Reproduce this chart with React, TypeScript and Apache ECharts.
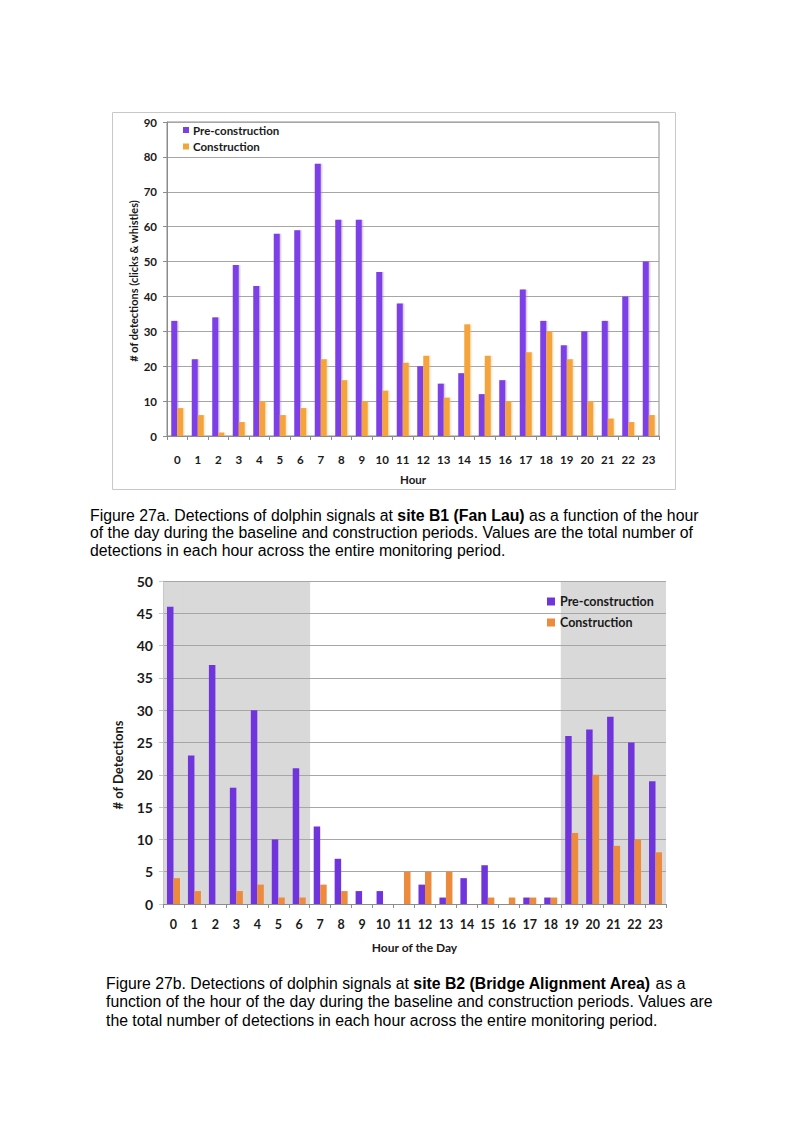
import React, { useEffect, useRef } from "react";
import * as echarts from "echarts";

const hours = ["0","1","2","3","4","5","6","7","8","9","10","11","12","13","14","15","16","17","18","19","20","21","22","23"];

// Figure 27a - site B1 (Fan Lau)
const b1Pre = [33, 22, 34, 49, 43, 58, 59, 78, 62, 62, 47, 38, 20, 15, 18, 12, 16, 42, 33, 26, 30, 33, 40, 50];
const b1Con = [8, 6, 1, 4, 10, 6, 8, 22, 16, 10, 13, 21, 23, 11, 32, 23, 10, 24, 30, 22, 10, 5, 4, 6];

// Figure 27b - site B2 (Bridge Alignment Area)
const b2Pre = [46, 23, 37, 18, 30, 10, 21, 12, 7, 2, 2, 0, 3, 1, 4, 6, 0, 1, 1, 26, 27, 29, 25, 19];
const b2Con = [4, 2, 0, 2, 3, 1, 1, 3, 2, 0, 0, 5, 5, 5, 0, 1, 1, 1, 1, 11, 20, 9, 10, 8];

// night hours shaded in figure 27b
const shadedHours = ["0","1","2","3","4","5","6","19","20","21","22","23"];

const seriesNames = ["Pre-construction", "Construction"];

const F = "Lato, 'Open Sans', sans-serif";
const CAP = "'Liberation Sans', Arial, sans-serif";

export default function App() {
  const ref = useRef<HTMLDivElement>(null);
  useEffect(() => {
    if (!ref.current) return;
    const chart = echarts.init(ref.current, undefined, { renderer: "svg" });
    const c1 = { p: "#7b3fe6", o: "#f5a43c" };
    const c2 = { p: "#7034dc", o: "#ec8a3e" };
    const axisGray = "#8c8c8c";
    const gridGray = "#a6a6a6";
    const shadeGray = "#d9d9d9";
    const lbl = (size: number) => ({ fontFamily: F, fontWeight: "bold" as const, fontSize: size, color: "#1a1a1a" });
    const shadeMax = 50;
    const shadeData = hours.map((h) => (shadedHours.includes(h) ? shadeMax : null));

    chart.setOption({
      animation: false,
      grid: [
        { left: 167, top: 122, width: 492, height: 314, show: true, borderColor: axisGray, borderWidth: 1, backgroundColor: "transparent" },
        { left: 163, top: 581, width: 503, height: 323 },
      ],
      legend: [
        {
          left: 178, top: 119, orient: "vertical", icon: "rect", itemWidth: 6, itemHeight: 6, itemGap: 4.5,
          textStyle: { ...lbl(11.5), padding: [0, 0, 0, -1] },
          data: [
            { name: seriesNames[0], itemStyle: { color: c1.p } },
            { name: seriesNames[1], itemStyle: { color: c1.o } },
          ],
          selectedMode: false,
        },
        {
          left: 542, top: 590, orient: "vertical", icon: "rect", itemWidth: 8, itemHeight: 8, itemGap: 8,
          textStyle: lbl(12.5),
          data: [
            { name: seriesNames[0], itemStyle: { color: c2.p } },
            { name: seriesNames[1], itemStyle: { color: c2.o } },
          ],
          selectedMode: false,
        },
      ],
      xAxis: [
        {
          gridIndex: 0, type: "category", data: hours,
          axisLine: { lineStyle: { color: axisGray } },
          axisTick: { show: true, length: 4, lineStyle: { color: axisGray } },
          axisLabel: { ...lbl(11.5), margin: 17, interval: 0 },
          name: "Hour", nameLocation: "middle", nameGap: 37, nameTextStyle: lbl(11.5),
        },
        {
          gridIndex: 1, type: "category", data: hours,
          axisLine: { lineStyle: { color: axisGray } },
          axisTick: { show: true, length: 4, lineStyle: { color: axisGray } },
          axisLabel: { ...lbl(12.5), margin: 14, interval: 0 },
          name: "Hour of the Day", nameLocation: "middle", nameGap: 37, nameTextStyle: lbl(12),
        },
        { gridIndex: 1, type: "category", data: hours, show: false },
      ],
      yAxis: [
        {
          gridIndex: 0, type: "value", min: 0, max: 90, interval: 10,
          axisLine: { show: true, lineStyle: { color: axisGray } },
          axisTick: { show: true, length: 4, lineStyle: { color: axisGray } },
          splitLine: { lineStyle: { color: gridGray } },
          axisLabel: { ...lbl(11.5), margin: 10 },
        },
        {
          gridIndex: 1, type: "value", min: 0, max: 50, interval: 5,
          axisLine: { show: true, lineStyle: { color: "#c8c8c8" } },
          axisTick: { show: true, length: 4, lineStyle: { color: "#c8c8c8" } },
          splitLine: { lineStyle: { color: gridGray } },
          axisLabel: { ...lbl(14), margin: 10 },
        },
      ],
      series: [
        {
          type: "bar", xAxisIndex: 2, yAxisIndex: 1, data: shadeData, barWidth: "104%",
          itemStyle: { color: shadeGray }, z: -1, silent: true, legendHoverLink: false,
        },
        {
          type: "bar", name: seriesNames[0], xAxisIndex: 0, yAxisIndex: 0, data: b1Pre, barWidth: 6, barGap: "0%",
          itemStyle: { color: c1.p, shadowColor: "rgba(150,110,230,0.35)", shadowOffsetX: 1.5, shadowBlur: 0 },
        },
        {
          type: "bar", name: seriesNames[1], xAxisIndex: 0, yAxisIndex: 0, data: b1Con, barWidth: 6, barGap: "0%",
          itemStyle: { color: c1.o, shadowColor: "rgba(240,190,120,0.35)", shadowOffsetX: 1.5, shadowBlur: 0 },
        },
        {
          type: "bar", name: seriesNames[0], xAxisIndex: 1, yAxisIndex: 1, data: b2Pre, barWidth: 6.5, barGap: "0%",
          itemStyle: { color: c2.p },
        },
        {
          type: "bar", name: seriesNames[1], xAxisIndex: 1, yAxisIndex: 1, data: b2Con, barWidth: 6.5, barGap: "0%",
          itemStyle: { color: c2.o },
        },
      ],
      graphic: [
        {
          type: "rect", left: 110, top: 110, shape: { x: 0, y: 0, width: 563, height: 377 },
          style: { fill: "none", stroke: "#c8c8c8", lineWidth: 1 }, silent: true,
        },
        {
          type: "text", x: 133, y: 281, rotation: Math.PI / 2,
          style: { text: "# of detections (clicks & whistles)", fontFamily: F, fontWeight: "bold", fontSize: 11, fill: "#1a1a1a", align: "center", verticalAlign: "middle" },
        },
        {
          type: "text", x: 118, y: 765, rotation: Math.PI / 2,
          style: { text: "# of Detections", fontFamily: F, fontWeight: "bold", fontSize: 13, fill: "#1a1a1a", align: "center", verticalAlign: "middle" },
        },
        {
          type: "text", left: 90, top: 507,
          style: {
            text:
              "{n|Figure 27a. Detections of dolphin signals at }{b|site B1 (Fan Lau)}{n| as a function of the hour}\n" +
              "{n|of the day during the baseline and construction periods. Values are the total number of}\n" +
              "{n|detections in each hour across the entire monitoring period.}",
            rich: {
              n: { fontFamily: CAP, fontSize: 15.8, lineHeight: 17.5, fill: "#000" },
              b: { fontFamily: CAP, fontSize: 15.8, lineHeight: 17.5, fontWeight: "bold", fill: "#000" },
            },
          },
        },
        {
          type: "text", left: 106, top: 975,
          style: {
            text:
              "{n|Figure 27b. Detections of dolphin signals at }{b|site B2 (Bridge Alignment Area)}{n| as a}\n" +
              "{n|function of the hour of the day during the baseline and construction periods. Values are}\n" +
              "{n|the total number of detections in each hour across the entire monitoring period.}",
            rich: {
              n: { fontFamily: CAP, fontSize: 15.8, lineHeight: 18.5, fill: "#000" },
              b: { fontFamily: CAP, fontSize: 15.8, lineHeight: 18.5, fontWeight: "bold", fill: "#000" },
            },
          },
        },
      ],
    });
    return () => chart.dispose();
  }, []);
  return (
    <div
      ref={ref}
      style={{ position: "absolute", left: 0, top: 0, width: 793, height: 1123, background: "#fff" }}
    />
  );
}
